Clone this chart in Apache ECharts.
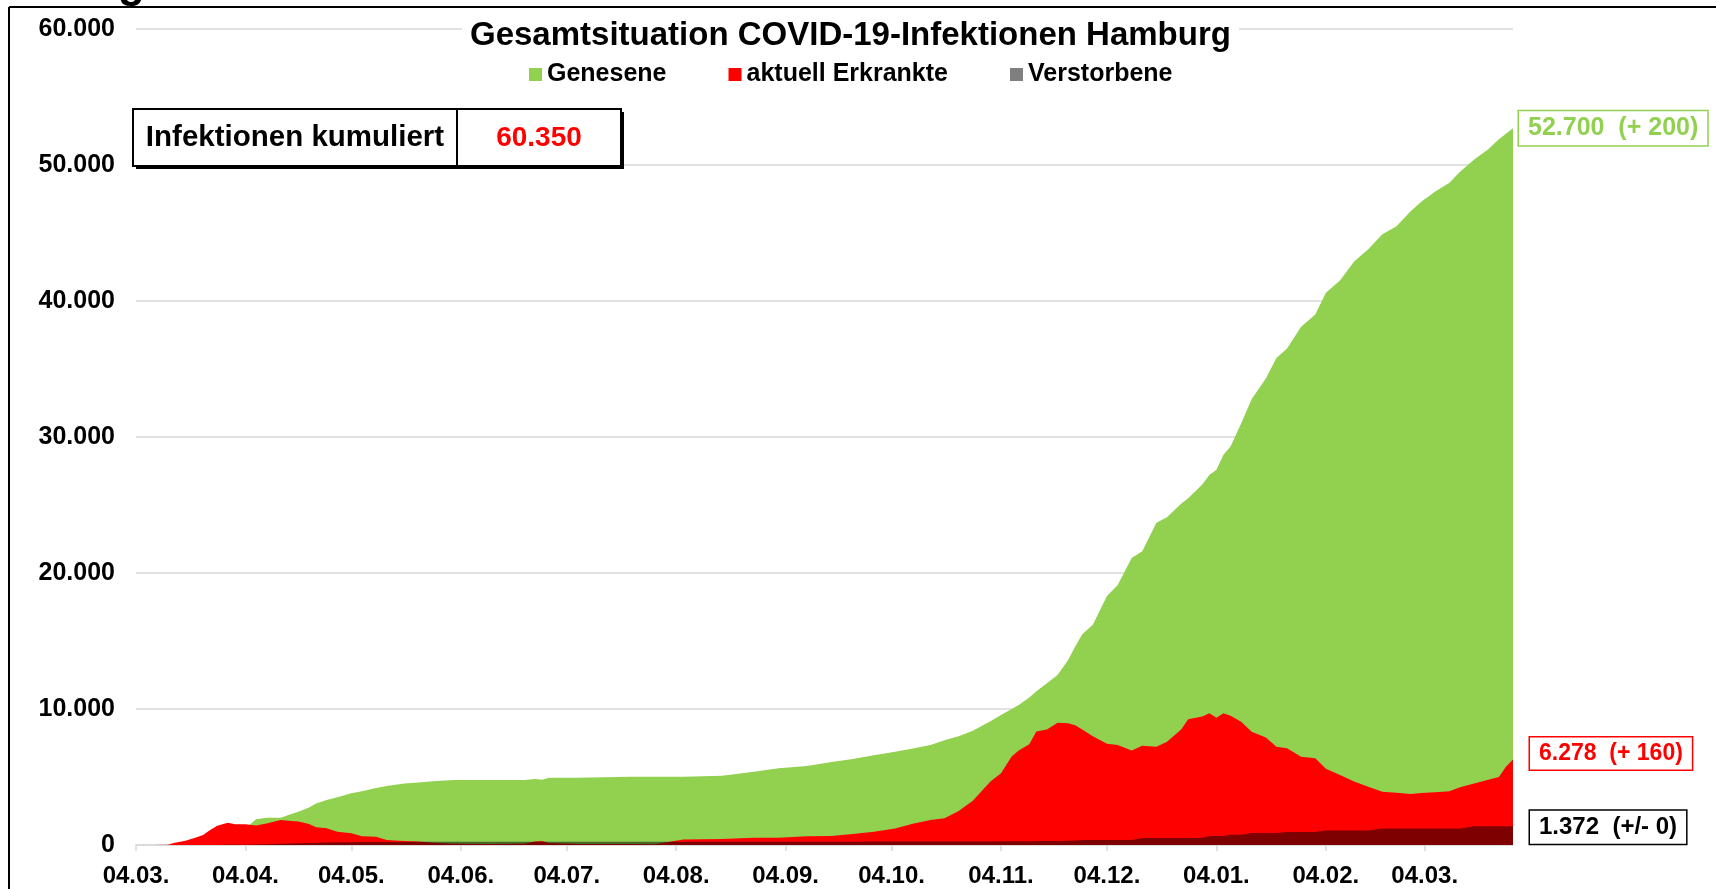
<!DOCTYPE html>
<html lang="de">
<head>
<meta charset="utf-8">
<title>Gesamtsituation COVID-19-Infektionen Hamburg</title>
<script src="https://cdn.jsdelivr.net/npm/echarts@6/dist/echarts.min.js"></script>
<style>
  html, body { margin: 0; padding: 0; background: #fff; }
  #chart { width: 1716px; height: 889px; }
</style>
</head>
<body>
<div id="chart"></div>
<script>
// Ablesestichtage
const stichtage = [
  '2020-03-04', '2020-03-09', '2020-03-13', '2020-03-15', '2020-03-18', '2020-03-21', '2020-03-23', '2020-03-25',
  '2020-03-27', '2020-03-30', '2020-04-01', '2020-04-04', '2020-04-07', '2020-04-10', '2020-04-14', '2020-04-17',
  '2020-04-19', '2020-04-22', '2020-04-24', '2020-04-27', '2020-04-30', '2020-05-04', '2020-05-07', '2020-05-11',
  '2020-05-14', '2020-05-19', '2020-05-23', '2020-05-28', '2020-06-02', '2020-06-12', '2020-06-22', '2020-06-25',
  '2020-06-27', '2020-06-29', '2020-07-07', '2020-07-22', '2020-07-29', '2020-08-06', '2020-08-17', '2020-08-26',
  '2020-09-02', '2020-09-10', '2020-09-17', '2020-09-23', '2020-09-29', '2020-10-05', '2020-10-10', '2020-10-15',
  '2020-10-19', '2020-10-23', '2020-10-27', '2020-11-01', '2020-11-04', '2020-11-07', '2020-11-09', '2020-11-12',
  '2020-11-14', '2020-11-17', '2020-11-20', '2020-11-23', '2020-11-25', '2020-11-27', '2020-11-30', '2020-12-04',
  '2020-12-07', '2020-12-11', '2020-12-14', '2020-12-18', '2020-12-21', '2020-12-25', '2020-12-27', '2020-12-31',
  '2021-01-02', '2021-01-04', '2021-01-06', '2021-01-08', '2021-01-11', '2021-01-14', '2021-01-18', '2021-01-21',
  '2021-01-24', '2021-01-28', '2021-02-01', '2021-02-04', '2021-02-08', '2021-02-12', '2021-02-16', '2021-02-20',
  '2021-02-24', '2021-02-28', '2021-03-03', '2021-03-07', '2021-03-11', '2021-03-14', '2021-03-18', '2021-03-22',
  '2021-03-25', '2021-03-27', '2021-03-29'
];

const genesene = [
  0, 0, 0, 0, 0, 30, 80, 150,
  250, 450, 700, 1200, 1900, 2000, 2000, 2280,
  2450, 2750, 3060, 3300, 3520, 3800, 3950, 4200,
  4340, 4530, 4600, 4700, 4780, 4780, 4780, 4860,
  4800, 4950, 4950, 5020, 5020, 5020, 5100, 5390,
  5640, 5800, 6100, 6320, 6600, 6850, 7100, 7350,
  7700, 8000, 8400, 9100, 9550, 10000, 10300, 10850,
  11300, 11900, 12500, 13600, 14600, 15500, 16200, 18300,
  19100, 21100, 21600, 23700, 24100, 25100, 25500, 26500,
  27200, 27600, 28700, 29300, 31000, 32800, 34300, 35800,
  36500, 38100, 39000, 40600, 41500, 42900, 43800, 44900,
  45500, 46600, 47300, 48050, 48700, 49500, 50400, 51150,
  51900, 52300, 52700
];

const erkrankte = [
  0, 0, 20, 170, 320, 560, 740, 1100,
  1420, 1640, 1520, 1520, 1430, 1590, 1840, 1770,
  1720, 1550, 1300, 1230, 980, 860, 650, 610,
  370, 290, 250, 150, 100, 80, 90, 250,
  300, 150, 80, 80, 60, 400, 450, 540,
  540, 640, 660, 800, 980, 1220, 1560, 1840,
  1960, 2500, 3250, 4660, 5270, 6500, 6950, 7400,
  8350, 8500, 8990, 8950, 8800, 8500, 8000, 7450,
  7350, 6950, 7300, 7230, 7600, 8500, 9250, 9450,
  9680, 9350, 9680, 9500, 9070, 8330, 7900, 7230,
  7110, 6490, 6370, 5600, 5150, 4660, 4290, 3920,
  3850, 3750, 3830, 3880, 3950, 4240, 4530, 4800,
  5000, 5750, 6278
];

const verstorbene = [
  0, 0, 0, 0, 0, 0, 2, 5,
  8, 12, 16, 25, 40, 60, 90, 115,
  130, 155, 170, 190, 200, 210, 215, 220,
  225, 228, 230, 231, 232, 234, 236, 237,
  237, 237, 238, 240, 241, 242, 243, 244,
  245, 246, 247, 248, 250, 252, 254, 256,
  258, 260, 262, 265, 268, 272, 275, 280,
  285, 290, 300, 320, 340, 360, 360, 360,
  365, 370, 520, 520, 520, 520, 520, 530,
  670, 670, 670, 760, 760, 880, 880, 880,
  950, 950, 955, 1060, 1060, 1060, 1060, 1210,
  1210, 1210, 1210, 1215, 1215, 1215, 1372, 1372,
  1372, 1372, 1372
];

const serienNamen = ['Genesene', 'aktuell Erkrankte', 'Verstorbene'];
const serienFarben = ['#92D050', '#FF0000', 'rgba(0,0,0,0.5)'];
const labelFarben = ['#92D050', '#FF0000', '#000000'];
const tagesAenderung = ['+ 200', '+ 160', '+/- 0'];

const ersterTag = '2020-03-04';
const letzterTag = '2021-03-29';

const FONT = '"Liberation Sans", Arial, Helvetica, sans-serif';

function alleTage(von, bis) {
  const out = [];
  let t = Date.parse(von + 'T00:00:00Z');
  const ende = Date.parse(bis + 'T00:00:00Z');
  while (t <= ende) {
    out.push(new Date(t).toISOString().slice(0, 10));
    t += 86400000;
  }
  return out;
}

function fmt(n) {
  return String(n).replace(/\B(?=(\d{3})+(?!\d))/g, '.');
}

const tage = alleTage(ersterTag, letzterTag);
const werte = [genesene, erkrankte, verstorbene];
const kumuliert = werte.reduce((s, arr) => s + arr[arr.length - 1], 0);

const istMonatsTick = (idx, val) => val.slice(8) === '04';

// Abstand / Versatz / Größe der Endbeschriftungen
const labelAbstand = [6, 17, 17];
const labelVersatz = [[0, 0], [0, -6], [0, 1]];
const labelGroesse = [25, 23, 24];

const series = werte.map((arr, i) => ({
  name: serienNamen[i],
  type: 'line',
  data: stichtage.map((d, k) => [d, arr[k]]),
  symbol: 'none',
  showSymbol: false,
  lineStyle: { width: 0, color: serienFarben[i] },
  itemStyle: { color: serienFarben[i] },
  areaStyle: { color: serienFarben[i], opacity: 1 },
  z: 2 + i,
  endLabel: {
    show: true,
    distance: labelAbstand[i],
    offset: labelVersatz[i],
    formatter: () => fmt(arr[arr.length - 1]) + '  (' + tagesAenderung[i] + ')',
    color: labelFarben[i],
    fontFamily: FONT,
    fontSize: labelGroesse[i],
    fontWeight: 'bold',
    backgroundColor: '#fff',
    borderColor: labelFarben[i],
    borderWidth: 1.5,
    padding: [5, 9, 4, 9]
  }
}));

const chart = echarts.init(document.getElementById('chart'));

chart.setOption({
  animation: false,
  backgroundColor: '#fff',
  textStyle: { fontFamily: FONT },
  title: {
    text: 'Gesamtsituation COVID-19-Infektionen Hamburg',
    left: 462,
    top: 16,
    padding: [2, 8],
    backgroundColor: '#fff',
    textStyle: {
      fontFamily: FONT,
      fontSize: 33,
      fontWeight: 'bold',
      color: '#000',
      lineHeight: 36
    }
  },
  legend: {
    data: serienNamen,
    left: 529,
    top: 62,
    padding: 0,
    icon: 'rect',
    itemWidth: 13,
    itemHeight: 13,
    itemGap: 62,
    textStyle: { fontFamily: FONT, fontSize: 25, fontWeight: 'bold', color: '#000' }
  },
  grid: { left: 136, right: 203, top: 29, bottom: 44, containLabel: false },
  xAxis: {
    type: 'category',
    data: tage,
    boundaryGap: false,
    axisLine: { lineStyle: { color: '#D9D9D9', width: 1.5 } },
    axisTick: { show: true, interval: istMonatsTick, length: 6, lineStyle: { color: '#D9D9D9', width: 1.5 } },
    axisLabel: {
      interval: istMonatsTick,
      formatter: v => v.slice(8, 10) + '.' + v.slice(5, 7) + '.',
      fontFamily: FONT,
      fontSize: 24,
      fontWeight: 'bold',
      color: '#000',
      margin: 19
    },
    splitLine: { show: false }
  },
  yAxis: {
    type: 'value',
    min: 0,
    max: 60000,
    interval: 10000,
    axisLine: { show: false },
    axisTick: { show: false },
    axisLabel: {
      formatter: v => fmt(v),
      fontFamily: FONT,
      fontSize: 25,
      fontWeight: 'bold',
      color: '#000',
      margin: 21
    },
    splitLine: { lineStyle: { color: '#D9D9D9', width: 1.5 } }
  },
  series: series,
  graphic: [
    // Rahmen des Diagrammbereichs
    { type: 'line', z: 100, shape: { x1: 9, y1: 7, x2: 1716, y2: 7 }, style: { stroke: '#000', lineWidth: 2 } },
    { type: 'line', z: 100, shape: { x1: 9, y1: 7, x2: 9, y2: 889 }, style: { stroke: '#000', lineWidth: 2 } },
    // abgeschnittene Überschrift oberhalb des Rahmens
    { type: 'text', z: 90, x: 118, y: 7, style: { text: 'g', fontFamily: FONT, fontSize: 44, fontWeight: 'bold', fill: '#000', verticalAlign: 'bottom' } },
    // Kasten "Infektionen kumuliert"
    { type: 'rect', z: 100, shape: { x: 136, y: 112, width: 488, height: 57 }, style: { fill: '#000' } },
    { type: 'rect', z: 101, shape: { x: 133, y: 109, width: 488, height: 57 }, style: { fill: '#fff', stroke: '#000', lineWidth: 2 } },
    { type: 'line', z: 102, shape: { x1: 457, y1: 109, x2: 457, y2: 166 }, style: { stroke: '#000', lineWidth: 2 } },
    { type: 'text', z: 102, x: 295, y: 138, style: { text: 'Infektionen kumuliert', fontFamily: FONT, fontSize: 29.5, fontWeight: 'bold', fill: '#000', align: 'center', verticalAlign: 'middle' } },
    { type: 'text', z: 102, x: 539, y: 138, style: { text: fmt(kumuliert), fontFamily: FONT, fontSize: 28, fontWeight: 'bold', fill: '#FF0000', align: 'center', verticalAlign: 'middle' } }
  ]
});

window.addEventListener('resize', () => chart.resize());
</script>
</body>
</html>
